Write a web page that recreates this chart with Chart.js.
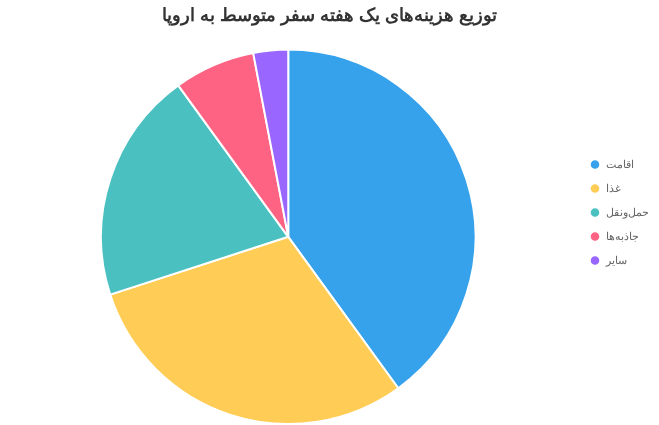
<!DOCTYPE html>
<html><head><meta charset="utf-8">
<script src="https://cdn.jsdelivr.net/npm/chart.js@4.4.0/dist/chart.umd.min.js"></script>
<style>html,body{margin:0;padding:0;background:#fff}#w{width:659px;height:425px}</style>
</head><body><div id="w"><canvas id="c"></canvas></div>
<script>
const categories = ['اقامت', 'غذا', 'حمل‌ونقل', 'جاذبه‌ها', 'سایر'];
const values = [40, 30, 20, 7, 3];
const colors = ['#36A2EB', '#FFCD56', '#4BC0C0', '#FF6384', '#9966FF'];
const titleText = 'توزیع هزینه‌های یک هفته سفر متوسط به اروپا';
new Chart(document.getElementById('c'), {
  type: 'pie',
  data: { labels: categories, datasets: [{ data: values, backgroundColor: colors, borderColor: '#fff', borderWidth: 2 }] },
  options: {
    responsive: true, maintainAspectRatio: false, animation: false,
    plugins: {
      title: { display: true, text: titleText, padding: { top: 5, bottom: 22 }, font: { size: 18, weight: 'bold', family: 'Arial, Liberation Sans' }, color: '#333' },
      legend: { position: 'right', labels: { usePointStyle: true, boxHeight: 7.5, padding: 13, font: { size: 11, family: 'Arial, Liberation Sans' }, color: '#666' } }
    }
  }
});
</script></body></html>
